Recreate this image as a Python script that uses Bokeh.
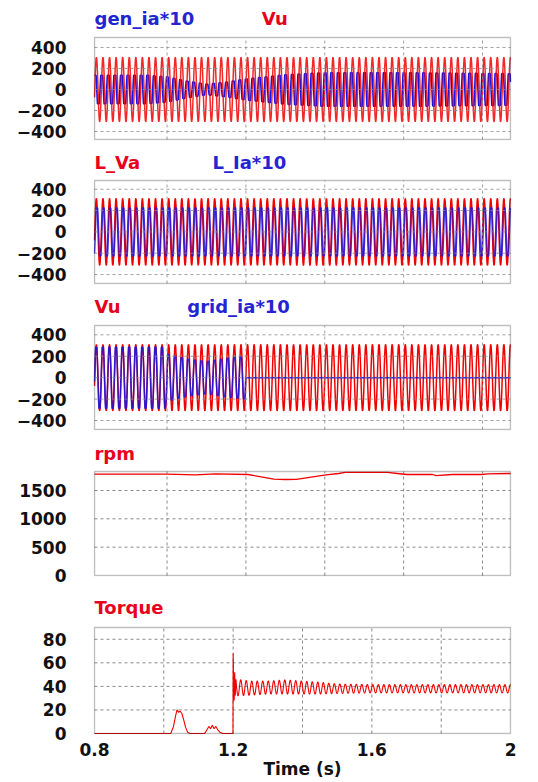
import numpy as np
from bokeh.plotting import figure
from bokeh.layouts import column
from bokeh.models import Label, FixedTicker, Range1d, BoxAnnotation
from bokeh.embed import file_html
from bokeh.resources import INLINE

# ---------------- data ----------------
T_UP = [0.816, 1.871]          # time window of the four upper panels (s)
T_LOW = [0.8, 2.0]             # time window of the torque panel (s)
LINE_FREQ = 60.0               # carrier of the ac waveforms (Hz)
TORQUE_RIPPLE_FREQ = 63.0      # ripple of the torque after 1.2 s (Hz)

# panel 1 : gen_ia*10 (blue) and Vu (red) amplitude envelopes
p1_env_t = [0.816, 0.95, 1.0, 1.05, 1.1, 1.15, 1.2, 1.3, 1.4, 1.6, 1.871]
p1_gen_ia_amp = [135, 135, 120, 80, 50, 70, 100, 140, 160, 160, 150]
p1_vu_amp = [305, 305, 305, 305, 305, 305, 305, 305, 305, 305, 305]

# panel 2 : L_Va (red) and L_Ia*10 (blue)
p2_env_t = [0.816, 1.0, 1.2, 1.4, 1.6, 1.871]
p2_lva_amp = [312, 312, 312, 312, 312, 312]
p2_lia_amp = [225, 225, 225, 225, 225, 225]

# panel 3 : Vu (red) and grid_ia*10 (blue)
p3_env_t = [0.816, 0.995, 1.0, 1.05, 1.1, 1.15, 1.199, 1.2, 1.871]
p3_vu_amp = [308, 308, 308, 308, 308, 308, 308, 308, 308]
p3_grid_ia_amp = [285, 285, 220, 175, 150, 180, 200, 0, 0]

# panel 4 : rpm
rpm_t = [0.816, 0.999, 1.073, 1.122, 1.205, 1.271, 1.30, 1.328, 1.403, 1.435,
         1.452, 1.559, 1.584, 1.608, 1.674, 1.682, 1.724, 1.798, 1.814, 1.871]
rpm_v = [1788, 1788, 1776, 1794, 1782, 1700, 1694, 1697, 1776, 1800,
         1818, 1818, 1800, 1782, 1782, 1764, 1782, 1782, 1794, 1800]

# panel 5 : torque before and at the 1.2 s step
torque_pre_t = [0.8, 1.02, 1.028, 1.034, 1.038, 1.043, 1.047, 1.052, 1.057, 1.063,
                1.069, 1.075, 1.118, 1.124, 1.13, 1.135, 1.14, 1.145, 1.15, 1.156,
                1.162, 1.17, 1.1995, 1.2, 1.2015, 1.203, 1.2045, 1.206, 1.208]
torque_pre_v = [0, 0, 6, 15, 20, 18, 19, 17, 12, 5,
                1, 0, 0, 3, 6, 4, 7, 4, 6, 3,
                1, 0, 0, 68, 42, 28, 52, 32, 46]
# torque after the step: mean level and ripple amplitude envelopes
torque_env_t = [1.21, 1.25, 1.3, 1.35, 1.4, 1.45, 1.5, 1.6, 1.8, 2.0]
torque_mean = [39, 38.5, 39, 39.5, 39, 38.5, 38, 38, 38, 38]
torque_amp = [7, 6, 5.5, 6, 5.5, 5, 4, 3.5, 3.5, 3.5]

y_ticks_ac = [-400, -200, 0, 200, 400]
y_ticks_rpm = [0, 500, 1000, 1500]
y_ticks_torque = [0, 20, 40, 60, 80]
x_grid_ticks = [1.0, 1.2, 1.4, 1.6, 1.8]
x_ticks_low = [0.8, 1.2, 1.6, 2.0]
x_tick_labels_low = ["0.8", "1.2", "1.6", "2"]

RED = "#f20000"
BLUE = "#1414e6"
RED_TXT = "#e8001c"
BLUE_TXT = "#2424d2"
FONT = "DejaVu Sans"
PAGE_W = 538


def wave(t, env_t, env_amp, phase, flat=1.0):
    """Envelope times a (optionally flat-topped) line-frequency carrier."""
    carrier = np.clip(flat * np.sin(2 * np.pi * LINE_FREQ * t + phase), -1, 1)
    return np.interp(t, env_t, env_amp) * carrier


class Panel:
    """A figure whose frame also holds the title row above the boxed plot area."""

    def __init__(self, fig_top, box_top, box_bottom, fig_bottom, box_left, box_right,
                 xr, yr, yticks):
        self.xr, self.yr = xr, yr
        self.box_left, self.box_right = box_left, box_right
        bw = box_right - box_left
        bh = box_bottom - box_top
        xs = (xr[1] - xr[0]) / bw          # data per pixel
        ys = (yr[1] - yr[0]) / bh
        self.xs, self.ys, self.box_top = xs, ys, box_top
        x_rng = Range1d(xr[0] - xs, xr[1] + xs)
        y_rng = Range1d(yr[0] - ys, yr[1] + (box_top - fig_top) * ys)
        p = figure(width=PAGE_W, height=fig_bottom - fig_top, x_range=x_rng, y_range=y_rng,
                   output_backend="svg", toolbar_location=None,
                   min_border_top=0, min_border_bottom=fig_bottom - box_bottom - 1,
                   min_border_left=box_left - 1, min_border_right=PAGE_W - box_right - 1)
        p.outline_line_color = None
        p.background_fill_color = "white"
        p.border_fill_color = "white"
        p.grid.visible = False
        p.yaxis.ticker = FixedTicker(ticks=yticks)
        p.yaxis.axis_line_color = None
        p.yaxis.major_tick_line_color = None
        p.yaxis.minor_tick_line_color = None
        p.yaxis.major_tick_out = 0
        p.yaxis.major_tick_in = 0
        p.yaxis.major_label_standoff = 27
        p.yaxis.major_label_text_font = FONT
        p.yaxis.major_label_text_font_style = "bold"
        p.yaxis.major_label_text_font_size = "17px"
        p.yaxis.major_label_text_color = "#111111"
        p.xaxis.visible = False
        self.p = p
        self.yticks = yticks

    def grid(self, alpha=1.0):
        p, xr, yr = self.p, self.xr, self.yr
        yt = [v for v in self.yticks if yr[0] < v < yr[1]]
        p.segment(x0=x_grid_ticks, y0=[yr[0]] * len(x_grid_ticks),
                  x1=x_grid_ticks, y1=[yr[1]] * len(x_grid_ticks),
                  line_color="#8a8a8a", line_dash="3 3", line_width=1, line_alpha=alpha)
        p.segment(x0=[xr[0]] * len(yt), y0=yt, x1=[xr[1]] * len(yt), y1=yt,
                  line_color="#8a8a8a", line_dash="3 3", line_width=1, line_alpha=alpha)

    def box(self):
        self.p.add_layout(BoxAnnotation(left=self.xr[0], right=self.xr[1],
                                        bottom=self.yr[0], top=self.yr[1],
                                        fill_alpha=0, line_color="#2a2a2a", line_width=1.5))

    def titles(self, title_y_px, items):
        for text, color, x_px in items:
            x = self.xr[0] + (x_px - self.box_left) * self.xs
            y = self.yr[1] + (self.box_top - title_y_px) * self.ys
            self.p.add_layout(Label(x=x, y=y, text=text, text_color=color, text_font=FONT,
                                    text_font_style="bold", text_font_size="18px",
                                    text_baseline="middle", text_align="left"))


t_up = np.linspace(T_UP[0], T_UP[1], 5000)

# ---- panel 1
P1 = Panel(0, 37, 139, 148, 94, 512, T_UP, [-476, 495], y_ticks_ac)
P1.p.line(t_up, wave(t_up, p1_env_t, p1_gen_ia_amp, 1.2, flat=1.6), line_color=BLUE, line_width=1.6)
P1.p.line(t_up, wave(t_up, p1_env_t, p1_vu_amp, 0.0), line_color=RED, line_width=1.5, line_alpha=0.85)
P1.grid(0.8)
P1.box()
P1.titles(18, [("gen_ia*10", BLUE_TXT, 94), ("Vu", RED_TXT, 262)])

# ---- panel 2
P2 = Panel(148, 180, 283, 296, 87, 510, T_UP, [-484, 482], y_ticks_ac)
P2.p.line(t_up, wave(t_up, p2_env_t, p2_lva_amp, 0.0), line_color=RED, line_width=1.5)
P2.p.line(t_up, wave(t_up, p2_env_t, p2_lia_amp, -0.6, flat=1.2), line_color=BLUE, line_width=1.5, line_alpha=0.8)
P2.grid(0.8)
P2.box()
P2.titles(162, [("L_Va", RED_TXT, 87), ("L_Ia*10", BLUE_TXT, 207)])

# ---- panel 3
P3 = Panel(296, 325, 429, 440, 85, 511, T_UP, [-484, 487], y_ticks_ac)
P3.p.line(t_up, wave(t_up, p3_env_t, p3_vu_amp, 0.0), line_color=RED, line_width=1.5)
P3.p.line(t_up, wave(t_up, p3_env_t, p3_grid_ia_amp, 0.15, flat=1.2), line_color=BLUE, line_width=1.5, line_alpha=0.85)
P3.grid(0.8)
P3.box()
P3.titles(306, [("Vu", RED_TXT, 85), ("grid_ia*10", BLUE_TXT, 180)])

# ---- panel 4
P4 = Panel(440, 471, 575, 588, 83, 510, T_UP, [0, 1835], y_ticks_rpm)
P4.grid()
P4.p.line(rpm_t, rpm_v, line_color=RED, line_width=1.3)
P4.box()
P4.titles(453, [("rpm", RED_TXT, 83)])

# ---- panel 5
P5 = Panel(588, 627, 733, 782, 83, 517, T_LOW, [0, 90], y_ticks_torque)
P5.grid()
t_rip = np.linspace(torque_env_t[0], torque_env_t[-1], 3000)
rip = np.interp(t_rip, torque_env_t, torque_mean) + \
    np.interp(t_rip, torque_env_t, torque_amp) * np.sin(2 * np.pi * TORQUE_RIPPLE_FREQ * (t_rip - torque_env_t[0]) + np.pi)
tq_t = np.concatenate([torque_pre_t, t_rip])
tq_v = np.concatenate([torque_pre_v, rip])
P5.p.line(tq_t, tq_v, line_color=RED, line_width=1.1)
P5.box()
P5.titles(607, [("Torque", RED_TXT, 83)])
ax = P5.p.xaxis
ax.visible = True
ax.ticker = FixedTicker(ticks=x_ticks_low)
ax.major_label_overrides = {float(k): v for k, v in zip(x_ticks_low, x_tick_labels_low)}
ax.axis_line_color = None
ax.major_tick_line_color = None
ax.minor_tick_line_color = None
ax.major_tick_out = 0
ax.major_tick_in = 0
ax.major_label_standoff = 8
ax.major_label_text_font = FONT
ax.major_label_text_font_style = "bold"
ax.major_label_text_font_size = "17px"
ax.major_label_text_color = "#111111"
ax.axis_label = "Time (s)"
ax.axis_label_standoff = 0
ax.axis_label_text_font = FONT
ax.axis_label_text_font_style = "bold"
ax.axis_label_text_font_size = "17px"
ax.axis_label_text_color = "#111111"

layout = column(P1.p, P2.p, P3.p, P4.p, P5.p, spacing=0)
open("out.html", "w").write(file_html(layout, INLINE))
